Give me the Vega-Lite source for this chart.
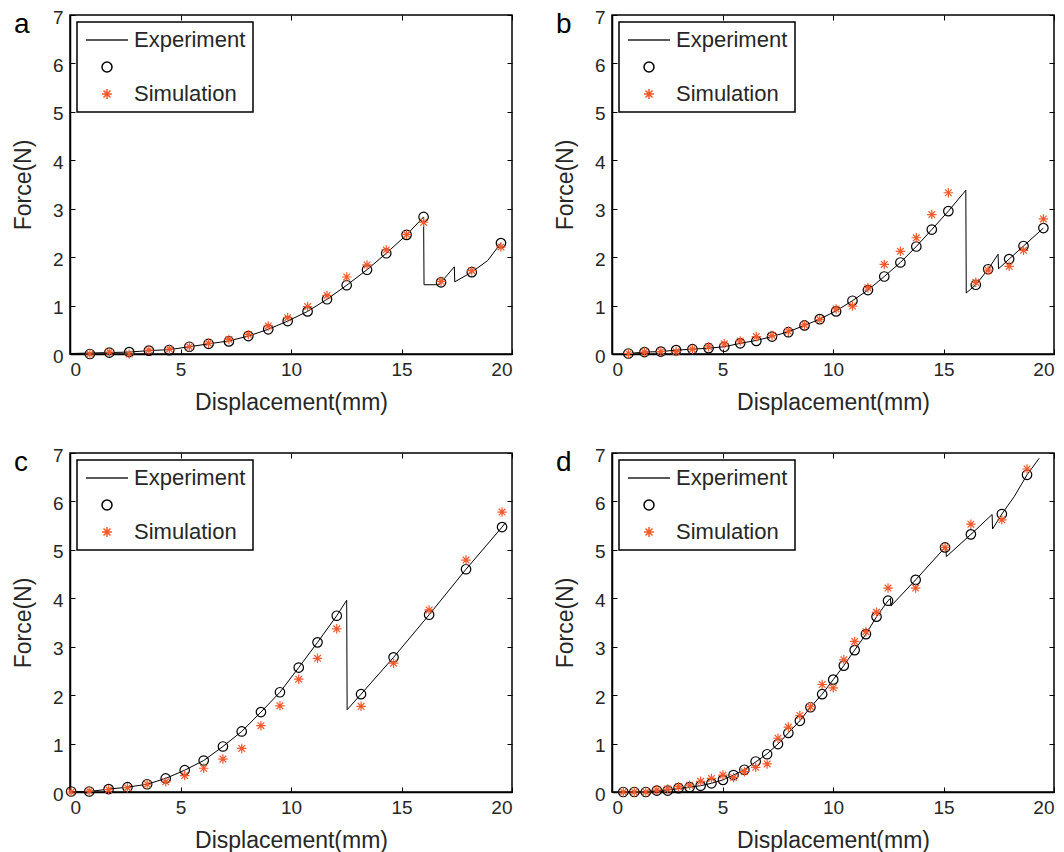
{
  "$schema": "https://vega.github.io/schema/vega-lite/v6.json",
  "padding": {"left": 11, "top": 7, "right": 5, "bottom": 5},
  "background": "white",
  "columns": 2,
  "spacing": {"row": 99, "column": 100},
  "bounds": "flush",
  "resolve": {
    "scale": {"shape": "independent", "stroke": "independent"},
    "legend": {"shape": "independent", "stroke": "independent"}
  },
  "config": {
    "font": "Liberation Sans",
    "view": {"stroke": "#000", "strokeWidth": 1.5},
    "axis": {
      "grid": false,
      "domainColor": "#000",
      "domainWidth": 1.5,
      "tickColor": "#000",
      "tickWidth": 1,
      "tickSize": -5,
      "labelFont": "Liberation Sans",
      "labelFontSize": 19,
      "labelColor": "#262626",
      "titleFont": "Liberation Sans",
      "titleFontSize": 23,
      "titleFontWeight": "normal",
      "titleColor": "#262626"
    },
    "legend": {
      "orient": "top-left",
      "offset": 7,
      "strokeColor": "#000",
      "strokeWidth": 1.5,
      "fillColor": "white",
      "padding": 7,
      "labelFont": "Liberation Sans",
      "labelFontSize": 22,
      "labelColor": "#262626",
      "rowPadding": 5,
      "labelOffset": 16,
      "symbolOffset": 12,
      "title": null
    },
    "title": {
      "anchor": "start",
      "frame": "group",
      "offset": 0,
      "dx": -56,
      "dy": 35,
      "fontSize": 28,
      "fontWeight": "normal",
      "color": "#000",
      "baseline": "alphabetic",
      "font": "Liberation Sans"
    }
  },
  "datasets": {
    "a_line": [
      {"x": 0, "y": 0.01}, {"x": 0.9, "y": 0.02}, {"x": 1.78, "y": 0.03}, {"x": 2.68, "y": 0.04}, {"x": 3.57, "y": 0.07}, {"x": 4.49, "y": 0.09}, {"x": 5.4, "y": 0.15}, {"x": 6.27, "y": 0.21}, {"x": 7.19, "y": 0.27}, {"x": 8.07, "y": 0.37}, {"x": 8.97, "y": 0.51}, {"x": 9.85, "y": 0.68}, {"x": 10.75, "y": 0.88}, {"x": 11.63, "y": 1.13}, {"x": 12.52, "y": 1.42}, {"x": 13.44, "y": 1.74}, {"x": 14.31, "y": 2.08}, {"x": 15.23, "y": 2.46}, {"x": 16.0, "y": 2.83}, {"x": 16.02, "y": 1.43}, {"x": 16.7, "y": 1.43}, {"x": 16.79, "y": 1.48}, {"x": 17.39, "y": 1.8}, {"x": 17.41, "y": 1.49}, {"x": 18.18, "y": 1.69}, {"x": 18.9, "y": 1.93}, {"x": 19.5, "y": 2.29}
    ],
    "a_pts": [
      {"x": 0.9, "y": 0.0, "series": "Circle"}, {"x": 1.78, "y": 0.03, "series": "Circle"}, {"x": 2.68, "y": 0.04, "series": "Circle"}, {"x": 3.57, "y": 0.07, "series": "Circle"}, {"x": 4.49, "y": 0.08, "series": "Circle"}, {"x": 5.4, "y": 0.15, "series": "Circle"}, {"x": 6.27, "y": 0.21, "series": "Circle"}, {"x": 7.19, "y": 0.26, "series": "Circle"}, {"x": 8.07, "y": 0.37, "series": "Circle"}, {"x": 8.97, "y": 0.51, "series": "Circle"}, {"x": 9.85, "y": 0.68, "series": "Circle"}, {"x": 10.75, "y": 0.88, "series": "Circle"}, {"x": 11.63, "y": 1.13, "series": "Circle"}, {"x": 12.52, "y": 1.42, "series": "Circle"}, {"x": 13.44, "y": 1.74, "series": "Circle"}, {"x": 14.31, "y": 2.08, "series": "Circle"}, {"x": 15.23, "y": 2.46, "series": "Circle"}, {"x": 16.0, "y": 2.83, "series": "Circle"}, {"x": 16.79, "y": 1.48, "series": "Circle"}, {"x": 18.18, "y": 1.69, "series": "Circle"}, {"x": 19.5, "y": 2.29, "series": "Circle"},
      {"x": 0.9, "y": 0.0, "series": "Simulation"}, {"x": 1.78, "y": 0.04, "series": "Simulation"}, {"x": 2.68, "y": 0.0, "series": "Simulation"}, {"x": 3.57, "y": 0.08, "series": "Simulation"}, {"x": 4.5, "y": 0.1, "series": "Simulation"}, {"x": 5.4, "y": 0.15, "series": "Simulation"}, {"x": 6.27, "y": 0.22, "series": "Simulation"}, {"x": 7.19, "y": 0.3, "series": "Simulation"}, {"x": 8.07, "y": 0.4, "series": "Simulation"}, {"x": 8.97, "y": 0.58, "series": "Simulation"}, {"x": 9.85, "y": 0.75, "series": "Simulation"}, {"x": 10.75, "y": 0.98, "series": "Simulation"}, {"x": 11.63, "y": 1.21, "series": "Simulation"}, {"x": 12.52, "y": 1.59, "series": "Simulation"}, {"x": 13.44, "y": 1.84, "series": "Simulation"}, {"x": 14.31, "y": 2.15, "series": "Simulation"}, {"x": 15.23, "y": 2.47, "series": "Simulation"}, {"x": 16.0, "y": 2.72, "series": "Simulation"}, {"x": 16.79, "y": 1.5, "series": "Simulation"}, {"x": 18.18, "y": 1.72, "series": "Simulation"}, {"x": 19.5, "y": 2.21, "series": "Simulation"}
    ],
    "b_line": [
      {"x": 0.74, "y": 0.01}, {"x": 1.47, "y": 0.04}, {"x": 2.21, "y": 0.05}, {"x": 2.9, "y": 0.08}, {"x": 3.64, "y": 0.1}, {"x": 4.37, "y": 0.12}, {"x": 5.08, "y": 0.15}, {"x": 5.8, "y": 0.22}, {"x": 6.53, "y": 0.28}, {"x": 7.24, "y": 0.36}, {"x": 7.98, "y": 0.46}, {"x": 8.71, "y": 0.59}, {"x": 9.4, "y": 0.72}, {"x": 10.14, "y": 0.89}, {"x": 10.88, "y": 1.1}, {"x": 11.58, "y": 1.32}, {"x": 12.32, "y": 1.6}, {"x": 13.05, "y": 1.89}, {"x": 13.77, "y": 2.22}, {"x": 14.47, "y": 2.57}, {"x": 15.22, "y": 2.95}, {"x": 16.01, "y": 3.38}, {"x": 16.03, "y": 1.26}, {"x": 16.46, "y": 1.43}, {"x": 17.02, "y": 1.75}, {"x": 17.47, "y": 2.06}, {"x": 17.49, "y": 1.76}, {"x": 17.97, "y": 1.96}, {"x": 18.62, "y": 2.23}, {"x": 19.52, "y": 2.6}
    ],
    "b_pts": [
      {"x": 0.74, "y": 0.01, "series": "Circle"}, {"x": 1.47, "y": 0.04, "series": "Circle"}, {"x": 2.21, "y": 0.05, "series": "Circle"}, {"x": 2.9, "y": 0.08, "series": "Circle"}, {"x": 3.64, "y": 0.1, "series": "Circle"}, {"x": 4.37, "y": 0.12, "series": "Circle"}, {"x": 5.08, "y": 0.15, "series": "Circle"}, {"x": 5.8, "y": 0.22, "series": "Circle"}, {"x": 6.53, "y": 0.27, "series": "Circle"}, {"x": 7.24, "y": 0.36, "series": "Circle"}, {"x": 7.98, "y": 0.45, "series": "Circle"}, {"x": 8.71, "y": 0.59, "series": "Circle"}, {"x": 9.4, "y": 0.72, "series": "Circle"}, {"x": 10.14, "y": 0.88, "series": "Circle"}, {"x": 10.88, "y": 1.1, "series": "Circle"}, {"x": 11.58, "y": 1.32, "series": "Circle"}, {"x": 12.32, "y": 1.6, "series": "Circle"}, {"x": 13.05, "y": 1.89, "series": "Circle"}, {"x": 13.77, "y": 2.22, "series": "Circle"}, {"x": 14.47, "y": 2.57, "series": "Circle"}, {"x": 15.22, "y": 2.95, "series": "Circle"}, {"x": 16.46, "y": 1.43, "series": "Circle"}, {"x": 17.02, "y": 1.75, "series": "Circle"}, {"x": 17.97, "y": 1.96, "series": "Circle"}, {"x": 18.62, "y": 2.23, "series": "Circle"}, {"x": 19.52, "y": 2.6, "series": "Circle"},
      {"x": 0.74, "y": 0.01, "series": "Simulation"}, {"x": 1.47, "y": 0.04, "series": "Simulation"}, {"x": 2.21, "y": 0.05, "series": "Simulation"}, {"x": 2.9, "y": 0.05, "series": "Simulation"}, {"x": 3.64, "y": 0.1, "series": "Simulation"}, {"x": 4.37, "y": 0.15, "series": "Simulation"}, {"x": 5.08, "y": 0.21, "series": "Simulation"}, {"x": 5.8, "y": 0.27, "series": "Simulation"}, {"x": 6.53, "y": 0.36, "series": "Simulation"}, {"x": 7.24, "y": 0.38, "series": "Simulation"}, {"x": 7.98, "y": 0.47, "series": "Simulation"}, {"x": 8.71, "y": 0.6, "series": "Simulation"}, {"x": 9.4, "y": 0.71, "series": "Simulation"}, {"x": 10.14, "y": 0.93, "series": "Simulation"}, {"x": 10.88, "y": 0.99, "series": "Simulation"}, {"x": 11.58, "y": 1.37, "series": "Simulation"}, {"x": 12.32, "y": 1.85, "series": "Simulation"}, {"x": 13.05, "y": 2.12, "series": "Simulation"}, {"x": 13.77, "y": 2.4, "series": "Simulation"}, {"x": 14.47, "y": 2.88, "series": "Simulation"}, {"x": 15.22, "y": 3.33, "series": "Simulation"}, {"x": 16.46, "y": 1.48, "series": "Simulation"}, {"x": 17.02, "y": 1.73, "series": "Simulation"}, {"x": 17.97, "y": 1.81, "series": "Simulation"}, {"x": 18.62, "y": 2.14, "series": "Simulation"}, {"x": 19.52, "y": 2.79, "series": "Simulation"}
    ],
    "c_line": [
      {"x": 0.05, "y": 0.01}, {"x": 0.87, "y": 0.01}, {"x": 1.75, "y": 0.06}, {"x": 2.6, "y": 0.1}, {"x": 3.49, "y": 0.16}, {"x": 4.33, "y": 0.28}, {"x": 5.19, "y": 0.45}, {"x": 6.05, "y": 0.65}, {"x": 6.92, "y": 0.94}, {"x": 7.77, "y": 1.25}, {"x": 8.64, "y": 1.65}, {"x": 9.5, "y": 2.06}, {"x": 10.35, "y": 2.57}, {"x": 11.2, "y": 3.09}, {"x": 12.07, "y": 3.64}, {"x": 12.52, "y": 3.96}, {"x": 12.54, "y": 1.7}, {"x": 13.17, "y": 2.02}, {"x": 14.64, "y": 2.78}, {"x": 16.25, "y": 3.66}, {"x": 17.92, "y": 4.6}, {"x": 19.55, "y": 5.47}, {"x": 19.7, "y": 5.56}
    ],
    "c_pts": [
      {"x": 0.05, "y": 0.01, "series": "Circle"}, {"x": 0.87, "y": 0.01, "series": "Circle"}, {"x": 1.75, "y": 0.06, "series": "Circle"}, {"x": 2.6, "y": 0.1, "series": "Circle"}, {"x": 3.49, "y": 0.16, "series": "Circle"}, {"x": 4.33, "y": 0.28, "series": "Circle"}, {"x": 5.19, "y": 0.45, "series": "Circle"}, {"x": 6.05, "y": 0.65, "series": "Circle"}, {"x": 6.92, "y": 0.94, "series": "Circle"}, {"x": 7.77, "y": 1.25, "series": "Circle"}, {"x": 8.64, "y": 1.65, "series": "Circle"}, {"x": 9.5, "y": 2.06, "series": "Circle"}, {"x": 10.35, "y": 2.57, "series": "Circle"}, {"x": 11.2, "y": 3.09, "series": "Circle"}, {"x": 12.07, "y": 3.64, "series": "Circle"}, {"x": 13.17, "y": 2.02, "series": "Circle"}, {"x": 14.64, "y": 2.78, "series": "Circle"}, {"x": 16.25, "y": 3.66, "series": "Circle"}, {"x": 17.92, "y": 4.6, "series": "Circle"}, {"x": 19.55, "y": 5.47, "series": "Circle"},
      {"x": 0.05, "y": 0.0, "series": "Simulation"}, {"x": 0.87, "y": 0.02, "series": "Simulation"}, {"x": 1.75, "y": 0.05, "series": "Simulation"}, {"x": 2.6, "y": 0.09, "series": "Simulation"}, {"x": 3.49, "y": 0.16, "series": "Simulation"}, {"x": 4.33, "y": 0.21, "series": "Simulation"}, {"x": 5.19, "y": 0.34, "series": "Simulation"}, {"x": 6.05, "y": 0.49, "series": "Simulation"}, {"x": 6.92, "y": 0.68, "series": "Simulation"}, {"x": 7.77, "y": 0.9, "series": "Simulation"}, {"x": 8.64, "y": 1.37, "series": "Simulation"}, {"x": 9.5, "y": 1.78, "series": "Simulation"}, {"x": 10.35, "y": 2.33, "series": "Simulation"}, {"x": 11.2, "y": 2.76, "series": "Simulation"}, {"x": 12.07, "y": 3.37, "series": "Simulation"}, {"x": 13.17, "y": 1.77, "series": "Simulation"}, {"x": 14.64, "y": 2.66, "series": "Simulation"}, {"x": 16.25, "y": 3.76, "series": "Simulation"}, {"x": 17.92, "y": 4.79, "series": "Simulation"}, {"x": 19.55, "y": 5.78, "series": "Simulation"}
    ],
    "d_line": [
      {"x": 0.3, "y": 0.0}, {"x": 0.51, "y": 0.0}, {"x": 1.01, "y": 0.0}, {"x": 1.53, "y": 0.01}, {"x": 2.03, "y": 0.03}, {"x": 2.52, "y": 0.04}, {"x": 3.01, "y": 0.07}, {"x": 3.51, "y": 0.1}, {"x": 4.01, "y": 0.13}, {"x": 4.5, "y": 0.18}, {"x": 5.02, "y": 0.25}, {"x": 5.5, "y": 0.35}, {"x": 5.99, "y": 0.46}, {"x": 6.5, "y": 0.62}, {"x": 7.02, "y": 0.79}, {"x": 7.51, "y": 0.99}, {"x": 7.98, "y": 1.22}, {"x": 8.5, "y": 1.47}, {"x": 8.98, "y": 1.75}, {"x": 9.51, "y": 2.02}, {"x": 10.01, "y": 2.32}, {"x": 10.49, "y": 2.61}, {"x": 10.98, "y": 2.93}, {"x": 11.49, "y": 3.26}, {"x": 11.97, "y": 3.62}, {"x": 12.49, "y": 3.95}, {"x": 12.6, "y": 4.0}, {"x": 12.62, "y": 3.84}, {"x": 13.74, "y": 4.38}, {"x": 15.07, "y": 5.05}, {"x": 15.1, "y": 5.06}, {"x": 15.13, "y": 4.86}, {"x": 16.24, "y": 5.32}, {"x": 17.2, "y": 5.73}, {"x": 17.22, "y": 5.43}, {"x": 17.64, "y": 5.74}, {"x": 18.2, "y": 6.1}, {"x": 18.78, "y": 6.55}, {"x": 19.33, "y": 6.89}
    ],
    "d_pts": [
      {"x": 0.51, "y": 0.0, "series": "Circle"}, {"x": 1.01, "y": 0.0, "series": "Circle"}, {"x": 1.53, "y": 0.0, "series": "Circle"}, {"x": 2.03, "y": 0.03, "series": "Circle"}, {"x": 2.52, "y": 0.03, "series": "Circle"}, {"x": 3.01, "y": 0.08, "series": "Circle"}, {"x": 3.51, "y": 0.1, "series": "Circle"}, {"x": 4.01, "y": 0.13, "series": "Circle"}, {"x": 4.5, "y": 0.18, "series": "Circle"}, {"x": 5.02, "y": 0.25, "series": "Circle"}, {"x": 5.5, "y": 0.35, "series": "Circle"}, {"x": 5.99, "y": 0.46, "series": "Circle"}, {"x": 6.5, "y": 0.63, "series": "Circle"}, {"x": 7.02, "y": 0.78, "series": "Circle"}, {"x": 7.51, "y": 0.99, "series": "Circle"}, {"x": 7.98, "y": 1.22, "series": "Circle"}, {"x": 8.5, "y": 1.47, "series": "Circle"}, {"x": 8.98, "y": 1.75, "series": "Circle"}, {"x": 9.51, "y": 2.02, "series": "Circle"}, {"x": 10.01, "y": 2.32, "series": "Circle"}, {"x": 10.49, "y": 2.61, "series": "Circle"}, {"x": 10.98, "y": 2.93, "series": "Circle"}, {"x": 11.49, "y": 3.26, "series": "Circle"}, {"x": 11.97, "y": 3.62, "series": "Circle"}, {"x": 12.49, "y": 3.95, "series": "Circle"}, {"x": 13.74, "y": 4.38, "series": "Circle"}, {"x": 15.07, "y": 5.05, "series": "Circle"}, {"x": 16.24, "y": 5.32, "series": "Circle"}, {"x": 17.64, "y": 5.74, "series": "Circle"}, {"x": 18.78, "y": 6.55, "series": "Circle"},
      {"x": 0.51, "y": 0.0, "series": "Simulation"}, {"x": 1.01, "y": 0.0, "series": "Simulation"}, {"x": 1.53, "y": 0.0, "series": "Simulation"}, {"x": 2.03, "y": 0.04, "series": "Simulation"}, {"x": 2.52, "y": 0.06, "series": "Simulation"}, {"x": 3.01, "y": 0.11, "series": "Simulation"}, {"x": 3.51, "y": 0.14, "series": "Simulation"}, {"x": 4.01, "y": 0.22, "series": "Simulation"}, {"x": 4.5, "y": 0.28, "series": "Simulation"}, {"x": 5.02, "y": 0.35, "series": "Simulation"}, {"x": 5.5, "y": 0.3, "series": "Simulation"}, {"x": 5.99, "y": 0.42, "series": "Simulation"}, {"x": 6.5, "y": 0.51, "series": "Simulation"}, {"x": 7.02, "y": 0.58, "series": "Simulation"}, {"x": 7.51, "y": 1.11, "series": "Simulation"}, {"x": 7.98, "y": 1.34, "series": "Simulation"}, {"x": 8.5, "y": 1.58, "series": "Simulation"}, {"x": 8.98, "y": 1.76, "series": "Simulation"}, {"x": 9.51, "y": 2.22, "series": "Simulation"}, {"x": 10.01, "y": 2.15, "series": "Simulation"}, {"x": 10.49, "y": 2.73, "series": "Simulation"}, {"x": 10.98, "y": 3.11, "series": "Simulation"}, {"x": 11.49, "y": 3.31, "series": "Simulation"}, {"x": 11.97, "y": 3.71, "series": "Simulation"}, {"x": 12.49, "y": 4.21, "series": "Simulation"}, {"x": 13.74, "y": 4.21, "series": "Simulation"}, {"x": 15.07, "y": 5.05, "series": "Simulation"}, {"x": 16.24, "y": 5.53, "series": "Simulation"}, {"x": 17.64, "y": 5.62, "series": "Simulation"}, {"x": 18.78, "y": 6.67, "series": "Simulation"}
    ]
  },
  "concat": [
    {
      "title": {"text": "a"},
      "width": 442, "height": 339,
      "layer": [
        {"data": {"name": "a_line"}, "mark": {"type": "line", "color": "#000", "strokeWidth": 1},
         "encoding": {
           "x": {"field": "x", "type": "quantitative", "scale": {"domain": [0, 20], "nice": false}, "axis": {"orient": "bottom", "values": [0, 5, 10, 15, 20], "title": "Displacement(mm)", "labelPadding": 11, "titlePadding": 12}},
           "y": {"field": "y", "type": "quantitative", "scale": {"domain": [0, 7], "nice": false}, "axis": {"orient": "left", "values": [0, 1, 2, 3, 4, 5, 6, 7], "title": "Force(N)", "labelPadding": 12, "titlePadding": 17, "labelOffset": 2}}
         }},
        {"data": {"name": "a_pts"}, "mark": {"type": "point", "filled": false, "size": 90, "strokeWidth": 1.2, "opacity": 1},
         "encoding": {
           "x": {"field": "x", "type": "quantitative", "scale": {"domain": [0, 20], "nice": false}, "axis": {"orient": "top", "values": [0, 5, 10, 15, 20], "labels": false, "title": null, "domain": false}},
           "y": {"field": "y", "type": "quantitative", "scale": {"domain": [0, 7], "nice": false}, "axis": {"orient": "right", "values": [0, 1, 2, 3, 4, 5, 6, 7], "labels": false, "title": null, "domain": false}},
           "shape": {"field": "series", "type": "nominal", "scale": {"domain": ["Experiment", "Circle", "Simulation"], "range": ["M-4.2,0H4.2", "circle", "M-1,0H1M0,-1V1M-0.7,-0.7L0.7,0.7M-0.7,0.7L0.7,-0.7"]},
             "legend": {"labelExpr": "datum.label == 'Circle' ? '' : datum.label"}},
           "stroke": {"field": "series", "type": "nominal", "scale": {"domain": ["Experiment", "Circle", "Simulation"], "range": ["#222222", "#000000", "#f4582b"]},
             "legend": {"labelExpr": "datum.label == 'Circle' ? '' : datum.label"}}
         }}
      ],
      "resolve": {"axis": {"x": "independent", "y": "independent"}}
    },
    {
      "title": {"text": "b"},
      "width": 442, "height": 339,
      "layer": [
        {"data": {"name": "b_line"}, "mark": {"type": "line", "color": "#000", "strokeWidth": 1},
         "encoding": {
           "x": {"field": "x", "type": "quantitative", "scale": {"domain": [0, 20], "nice": false}, "axis": {"orient": "bottom", "values": [0, 5, 10, 15, 20], "title": "Displacement(mm)", "labelPadding": 11, "titlePadding": 12}},
           "y": {"field": "y", "type": "quantitative", "scale": {"domain": [0, 7], "nice": false}, "axis": {"orient": "left", "values": [0, 1, 2, 3, 4, 5, 6, 7], "title": "Force(N)", "labelPadding": 12, "titlePadding": 17, "labelOffset": 2}}
         }},
        {"data": {"name": "b_pts"}, "mark": {"type": "point", "filled": false, "size": 90, "strokeWidth": 1.2, "opacity": 1},
         "encoding": {
           "x": {"field": "x", "type": "quantitative", "scale": {"domain": [0, 20], "nice": false}, "axis": {"orient": "top", "values": [0, 5, 10, 15, 20], "labels": false, "title": null, "domain": false}},
           "y": {"field": "y", "type": "quantitative", "scale": {"domain": [0, 7], "nice": false}, "axis": {"orient": "right", "values": [0, 1, 2, 3, 4, 5, 6, 7], "labels": false, "title": null, "domain": false}},
           "shape": {"field": "series", "type": "nominal", "scale": {"domain": ["Experiment", "Circle", "Simulation"], "range": ["M-4.2,0H4.2", "circle", "M-1,0H1M0,-1V1M-0.7,-0.7L0.7,0.7M-0.7,0.7L0.7,-0.7"]},
             "legend": {"labelExpr": "datum.label == 'Circle' ? '' : datum.label"}},
           "stroke": {"field": "series", "type": "nominal", "scale": {"domain": ["Experiment", "Circle", "Simulation"], "range": ["#222222", "#000000", "#f4582b"]},
             "legend": {"labelExpr": "datum.label == 'Circle' ? '' : datum.label"}}
         }}
      ],
      "resolve": {"axis": {"x": "independent", "y": "independent"}}
    },
    {
      "title": {"text": "c"},
      "width": 442, "height": 339,
      "layer": [
        {"data": {"name": "c_line"}, "mark": {"type": "line", "color": "#000", "strokeWidth": 1},
         "encoding": {
           "x": {"field": "x", "type": "quantitative", "scale": {"domain": [0, 20], "nice": false}, "axis": {"orient": "bottom", "values": [0, 5, 10, 15, 20], "title": "Displacement(mm)", "labelPadding": 11, "titlePadding": 12}},
           "y": {"field": "y", "type": "quantitative", "scale": {"domain": [0, 7], "nice": false}, "axis": {"orient": "left", "values": [0, 1, 2, 3, 4, 5, 6, 7], "title": "Force(N)", "labelPadding": 12, "titlePadding": 17, "labelOffset": 2}}
         }},
        {"data": {"name": "c_pts"}, "mark": {"type": "point", "filled": false, "size": 90, "strokeWidth": 1.2, "opacity": 1},
         "encoding": {
           "x": {"field": "x", "type": "quantitative", "scale": {"domain": [0, 20], "nice": false}, "axis": {"orient": "top", "values": [0, 5, 10, 15, 20], "labels": false, "title": null, "domain": false}},
           "y": {"field": "y", "type": "quantitative", "scale": {"domain": [0, 7], "nice": false}, "axis": {"orient": "right", "values": [0, 1, 2, 3, 4, 5, 6, 7], "labels": false, "title": null, "domain": false}},
           "shape": {"field": "series", "type": "nominal", "scale": {"domain": ["Experiment", "Circle", "Simulation"], "range": ["M-4.2,0H4.2", "circle", "M-1,0H1M0,-1V1M-0.7,-0.7L0.7,0.7M-0.7,0.7L0.7,-0.7"]},
             "legend": {"labelExpr": "datum.label == 'Circle' ? '' : datum.label"}},
           "stroke": {"field": "series", "type": "nominal", "scale": {"domain": ["Experiment", "Circle", "Simulation"], "range": ["#222222", "#000000", "#f4582b"]},
             "legend": {"labelExpr": "datum.label == 'Circle' ? '' : datum.label"}}
         }}
      ],
      "resolve": {"axis": {"x": "independent", "y": "independent"}}
    },
    {
      "title": {"text": "d"},
      "width": 442, "height": 339,
      "layer": [
        {"data": {"name": "d_line"}, "mark": {"type": "line", "color": "#000", "strokeWidth": 1},
         "encoding": {
           "x": {"field": "x", "type": "quantitative", "scale": {"domain": [0, 20], "nice": false}, "axis": {"orient": "bottom", "values": [0, 5, 10, 15, 20], "title": "Displacement(mm)", "labelPadding": 11, "titlePadding": 12}},
           "y": {"field": "y", "type": "quantitative", "scale": {"domain": [0, 7], "nice": false}, "axis": {"orient": "left", "values": [0, 1, 2, 3, 4, 5, 6, 7], "title": "Force(N)", "labelPadding": 12, "titlePadding": 17, "labelOffset": 2}}
         }},
        {"data": {"name": "d_pts"}, "mark": {"type": "point", "filled": false, "size": 90, "strokeWidth": 1.2, "opacity": 1},
         "encoding": {
           "x": {"field": "x", "type": "quantitative", "scale": {"domain": [0, 20], "nice": false}, "axis": {"orient": "top", "values": [0, 5, 10, 15, 20], "labels": false, "title": null, "domain": false}},
           "y": {"field": "y", "type": "quantitative", "scale": {"domain": [0, 7], "nice": false}, "axis": {"orient": "right", "values": [0, 1, 2, 3, 4, 5, 6, 7], "labels": false, "title": null, "domain": false}},
           "shape": {"field": "series", "type": "nominal", "scale": {"domain": ["Experiment", "Circle", "Simulation"], "range": ["M-4.2,0H4.2", "circle", "M-1,0H1M0,-1V1M-0.7,-0.7L0.7,0.7M-0.7,0.7L0.7,-0.7"]},
             "legend": {"labelExpr": "datum.label == 'Circle' ? '' : datum.label"}},
           "stroke": {"field": "series", "type": "nominal", "scale": {"domain": ["Experiment", "Circle", "Simulation"], "range": ["#222222", "#000000", "#f4582b"]},
             "legend": {"labelExpr": "datum.label == 'Circle' ? '' : datum.label"}}
         }}
      ],
      "resolve": {"axis": {"x": "independent", "y": "independent"}}
    }
  ]
}
